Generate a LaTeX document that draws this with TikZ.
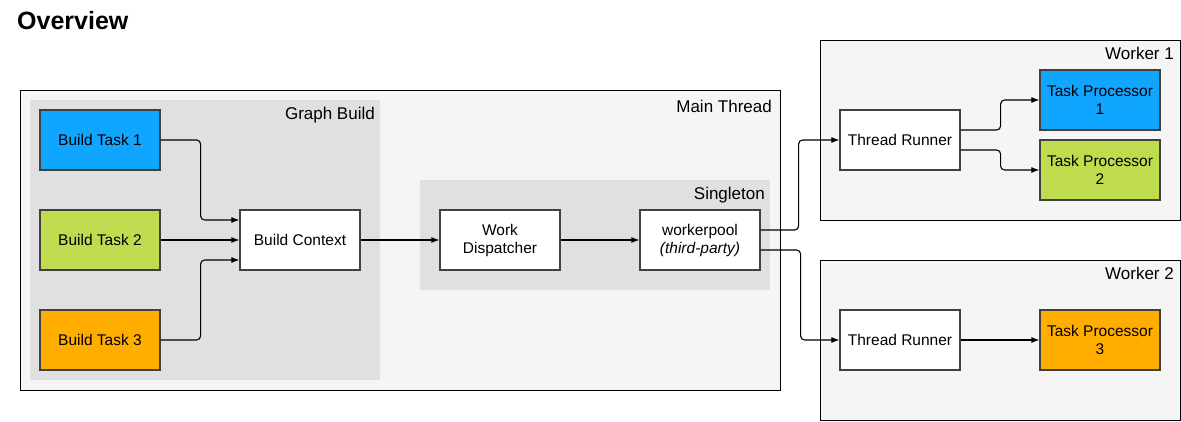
\documentclass[tikz,border=0pt]{standalone}
\usepackage{fontspec}
\setmainfont{Liberation Sans}
\usetikzlibrary{positioning,arrows.meta}

\definecolor{taskblue}{HTML}{10A6FF}
\definecolor{taskgreen}{HTML}{BFDC4E}
\definecolor{taskorange}{HTML}{FFAE00}

\begin{document}
\begin{tikzpicture}[x=1pt, y=-1pt,
    every node/.style={font=\fontsize{15.5}{18}\selectfont},
    box/.style={draw=black!75, line width=1.2pt, fill=white, minimum width=120pt, minimum height=60pt, inner sep=0pt, align=center},
    frame/.style={draw=black, line width=1pt, fill=black!4},
    group/.style={fill=black!12},
    lbl/.style={anchor=base east, inner sep=0pt, font=\fontsize{17}{20}\selectfont},
    link/.style={-{Latex[length=8pt,width=6pt]}, line width=1.1pt, rounded corners=4pt}]
  \useasboundingbox (0,0) rectangle (1181,421);
  \node[anchor=base west, inner sep=0pt, font=\fontsize{25}{30}\selectfont\bfseries] (title) at (17,29) {Overview};

  % containers
  \draw[frame] (20,90) rectangle (780,390);
  \node[lbl] (mainlbl) at (772,112) {Main Thread};
  \fill[group] (30,100) rectangle (380,380);
  \node[lbl] (graphlbl) at (375,119) {Graph Build};
  \fill[group] (420,180) rectangle (770,290);
  \node[lbl] (singlelbl) at (765,199) {Singleton};
  \draw[frame] (820,40) rectangle (1180,220);
  \node[lbl] (w1lbl) at (1174,59) {Worker 1};
  \draw[frame] (820,260) rectangle (1180,420);
  \node[lbl] (w2lbl) at (1174,279) {Worker 2};

  % main thread
  \foreach \i/\c in {1/taskblue, 2/taskgreen, 3/taskorange}
    \node[box, fill=\c] (bt\i) at (100, {40+100*\i}) {Build Task \i};
  \node[box] (ctx) at (300,240) {Build Context};
  \node[box] (disp) at (500,240) {Work\\Dispatcher};
  \node[box] (pool) at (700,240) {workerpool\\\textit{(third-party)}};

  % workers
  \node[box] (tr1) at (900,140) {Thread Runner};
  \node[box, fill=taskblue] (tp1) at (1100,100) {Task Processor\\1};
  \node[box, fill=taskgreen] (tp2) at (1100,170) {Task Processor\\2};
  \node[box] (tr2) at (900,340) {Thread Runner};
  \node[box, fill=taskorange] (tp3) at (1100,340) {Task Processor\\3};

  % connectors
  \draw[link] (bt1.east) -- ++(40,0) |- ([yshift=20pt]ctx.west);
  \draw[link] (bt2.east) -- (ctx.west);
  \draw[link] (bt3.east) -- ++(40,0) |- ([yshift=-20pt]ctx.west);
  \draw[link] (ctx) -- (disp);
  \draw[link] (disp) -- (pool);
  \draw[link] ([yshift=10pt]pool.east) -- ++(38,0) |- (tr1.west);
  \draw[link] ([yshift=-10pt]pool.east) -- ++(40,0) |- (tr2.west);
  \draw[link] ([yshift=10pt]tr1.east) -- ++(40,0) |- (tp1.west);
  \draw[link] ([yshift=-10pt]tr1.east) -- ++(40,0) |- (tp2.west);
  \draw[link] (tr2) -- (tp3);
\end{tikzpicture}
\end{document}
